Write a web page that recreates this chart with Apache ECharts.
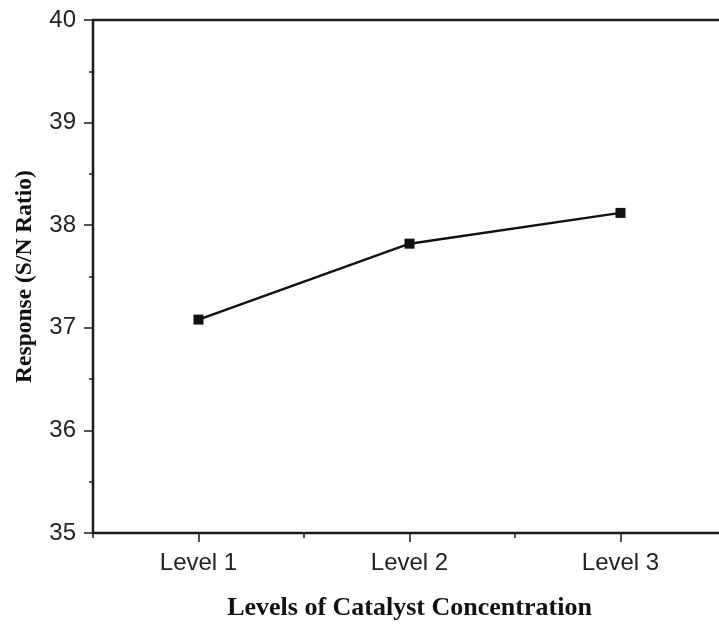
<!DOCTYPE html>
<html>
<head>
<meta charset="utf-8">
<script src="https://cdn.jsdelivr.net/npm/echarts@6/dist/echarts.min.js"></script>
<style>
html,body{margin:0;padding:0;background:#fff;}
#chart{width:719px;height:624px;}
</style>
</head>
<body>
<div id="chart"></div>
<script>
const categories = ['Level 1', 'Level 2', 'Level 3'];
const snRatio = [37.08, 37.82, 38.12];
const yTicks = { min: 35, max: 40, interval: 1 };
const xTitle = 'Levels of Catalyst Concentration';
const yTitle = 'Response (S/N Ratio)';

const chart = echarts.init(document.getElementById('chart'), null, { renderer: 'canvas' });
const ink = '#1a1a1a';
const sans = '"Liberation Sans", Arial, sans-serif';
const serif = '"Liberation Serif", "Times New Roman", serif';

chart.setOption({
  backgroundColor: '#fff',
  animation: false,
  grid: { left: 93, top: 20, width: 633, height: 513, outerBoundsMode: 'none', containLabel: false, show: true, borderColor: ink, borderWidth: 2.5, backgroundColor: 'transparent' },
  xAxis: [
    {
      type: 'category', data: categories, boundaryGap: true, position: 'bottom',
      axisLine: { show: true, lineStyle: { color: ink, width: 2 } },
      axisTick: { show: true, alignWithLabel: true, inside: false, length: 9, lineStyle: { color: ink, width: 1.5 } },
      axisLabel: { show: true, fontFamily: sans, fontSize: 24, color: '#222', margin: 18 },
      splitLine: { show: false },
      name: xTitle, nameLocation: 'middle', nameGap: 62,
      nameTextStyle: { fontFamily: serif, fontWeight: 'bold', fontSize: 26, color: '#111' }
    },
    {
      type: 'category', data: categories, boundaryGap: true, position: 'bottom',
      axisLine: { show: false },
      axisTick: { show: true, alignWithLabel: false, interval: 0, length: 5, lineStyle: { color: ink, width: 1.5 } },
      axisLabel: { show: false },
      splitLine: { show: false }
    }
  ],
  yAxis: {
    type: 'value', min: yTicks.min, max: yTicks.max, interval: yTicks.interval,
    axisLine: { show: true, lineStyle: { color: ink, width: 2 } },
    axisTick: { show: true, inside: false, length: 9, lineStyle: { color: ink, width: 1.5 } },
    minorTick: { show: true, splitNumber: 2, length: 4, lineStyle: { color: ink, width: 1.5 } },
    axisLabel: { fontFamily: sans, fontSize: 24, color: '#222', margin: 17 },
    splitLine: { show: false },
    name: yTitle, nameLocation: 'middle', nameGap: 56, nameRotate: 90,
    nameTextStyle: { fontFamily: serif, fontWeight: 'bold', fontSize: 23.5, color: '#111' }
  },
  series: [{
    type: 'line', data: snRatio, xAxisIndex: 0,
    symbol: 'rect', symbolSize: 10,
    itemStyle: { color: '#111' },
    lineStyle: { color: '#111', width: 2.5 }
  }]
});
</script>
</body>
</html>
